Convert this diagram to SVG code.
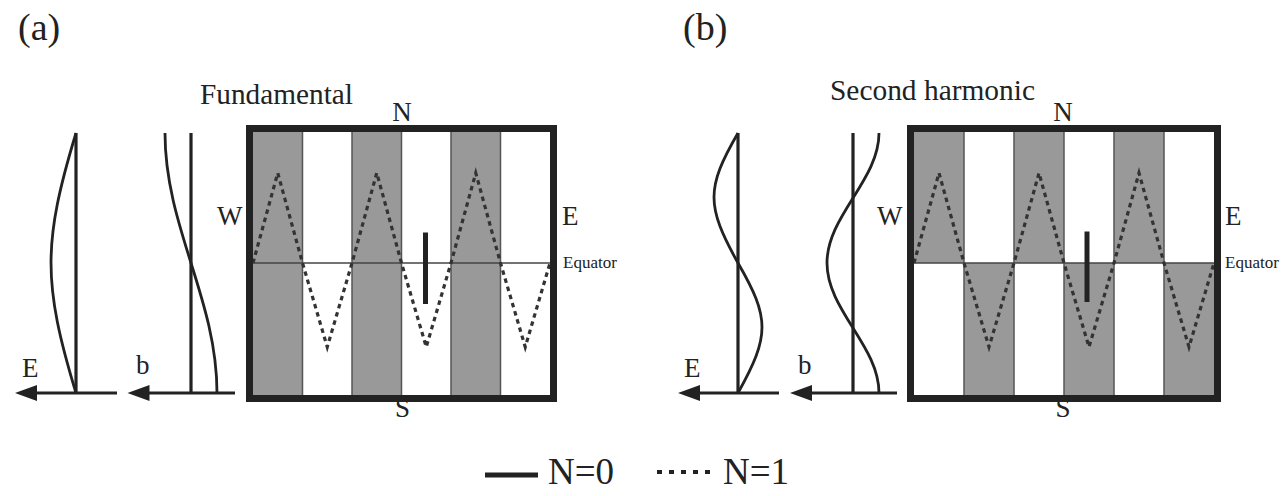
<svg xmlns="http://www.w3.org/2000/svg" width="1284" height="496" viewBox="0 0 1284 496">
<style>
text{font-family:"Liberation Serif","Times New Roman",serif;fill:#222}
.gray{fill:#999999}
.div{stroke:#555;stroke-width:1.5;fill:none}
.frame{fill:none;stroke:#222;stroke-width:7}
.eq{stroke:#444;stroke-width:1.5}
.wave{fill:none;stroke:#333;stroke-width:3.2;stroke-dasharray:4.5 4}
.bar{stroke:#222;stroke-width:5}
.ln{stroke:#222;stroke-width:3.2;fill:none}
.cv{stroke:#222;stroke-width:2.8;fill:none}
.ah{fill:#222}
.big{font-size:27px}
.lab{font-size:27px}
.small{font-size:17px}
.title{font-size:29px}
.panel{font-size:38px}
.leg{font-size:37px}
</style>

<g id="label-a"><text class="panel" x="18" y="40">(a)</text></g>
<g id="label-b"><text class="panel" x="683" y="40">(b)</text></g>

<!-- Panel (a) profiles -->
<g id="a-E-profile">
  <line class="ln" x1="76" y1="133" x2="76" y2="393"/>
  <path class="cv" d="M76,133 C42.7,243 42.7,283 76,393"/>
  <line class="ln" x1="117" y1="393" x2="30" y2="393"/>
  <polygon class="ah" points="15,393 37,385 37,401"/>
  <text class="lab" x="22" y="377">E</text>
</g>
<g id="a-b-profile">
  <line class="ln" x1="191" y1="133" x2="191" y2="393"/>
  <path class="cv" d="M165,133 C165,227.5 217,298.5 217,393"/>
  <line class="ln" x1="235" y1="393" x2="142" y2="393"/>
  <polygon class="ah" points="127.5,393 149.5,385 149.5,401"/>
  <text class="lab" x="136" y="374">b</text>
</g>

<!-- Panel (a) map -->
<g id="a-map">
  <text class="title" x="200" y="104" textLength="153" lengthAdjust="spacingAndGlyphs">Fundamental</text>
  <rect x="253" y="132" width="297" height="263" fill="#fff"/>
  <rect class="gray" x="253" y="132" width="49.5" height="263"/>
  <rect class="gray" x="352" y="132" width="49.5" height="263"/>
  <rect class="gray" x="451" y="132" width="49.5" height="263"/>
  <path class="div" d="M302.5,132V395M352,132V395M401.5,132V395M451,132V395M500.5,132V395"/>
  <line class="eq" x1="253" y1="263" x2="550" y2="263"/>
  <polyline class="wave" points="253,263 277.75,173 302.5,263 327.25,347 352,263 376.75,173 401.5,263 426.25,347 451,263 475.75,173 500.5,263 525.25,347 550,263"/>
  <line class="bar" x1="425.5" y1="232.5" x2="425.5" y2="304"/>
  <rect class="frame" x="249.5" y="128.5" width="304" height="270"/>
  <text class="big" x="402" y="121" text-anchor="middle">N</text>
  <text class="big" x="402.5" y="417" text-anchor="middle">S</text>
  <text class="big" x="217" y="225">W</text>
  <text class="big" x="562" y="225">E</text>
  <text class="small" x="563" y="268">Equator</text>
</g>

<!-- Panel (b) profiles -->
<g id="b-E-profile">
  <line class="ln" x1="738" y1="133" x2="738" y2="393"/>
  <path class="cv" d="M738,133 C706,188.2 706,205.8 738,263 C770,318.2 770,335.8 738,393"/>
  <line class="ln" x1="779" y1="393" x2="692" y2="393"/>
  <polygon class="ah" points="678,393 700,385 700,401"/>
  <text class="lab" x="684" y="377">E</text>
</g>
<g id="b-b-profile">
  <line class="ln" x1="853" y1="133" x2="853" y2="393"/>
  <path class="cv" d="M879,133 C879,180.2 827,215.8 827,263 C827,310.2 879,345.8 879,393"/>
  <line class="ln" x1="897" y1="393" x2="804" y2="393"/>
  <polygon class="ah" points="790,393 812,385 812,401"/>
  <text class="lab" x="798" y="374">b</text>
</g>

<!-- Panel (b) map -->
<g id="b-map">
  <text class="title" x="830" y="100" textLength="205" lengthAdjust="spacingAndGlyphs">Second harmonic</text>
  <rect x="914" y="132" width="300" height="263" fill="#fff"/>
  <rect class="gray" x="914" y="132" width="50" height="131"/>
  <rect class="gray" x="1014" y="132" width="50" height="131"/>
  <rect class="gray" x="1114" y="132" width="50" height="131"/>
  <rect class="gray" x="964" y="263" width="50" height="132"/>
  <rect class="gray" x="1064" y="263" width="50" height="132"/>
  <rect class="gray" x="1164" y="263" width="50" height="132"/>
  <path class="div" d="M964,132V395M1014,132V395M1064,132V395M1114,132V395M1164,132V395"/>
  <line class="eq" x1="914" y1="263" x2="1214" y2="263"/>
  <polyline class="wave" points="914,263 939,173 964,263 989,347 1014,263 1039,173 1064,263 1089,347 1114,263 1139,173 1164,263 1189,347 1214,263"/>
  <line class="bar" x1="1087" y1="231.5" x2="1087" y2="302"/>
  <rect class="frame" x="910.5" y="128.5" width="307" height="270"/>
  <text class="big" x="1063" y="121" text-anchor="middle">N</text>
  <text class="big" x="1063" y="417" text-anchor="middle">S</text>
  <text class="big" x="877" y="225">W</text>
  <text class="big" x="1225" y="225">E</text>
  <text class="small" x="1225" y="268">Equator</text>
</g>

<!-- Legend -->
<g id="legend">
  <line x1="485" y1="475" x2="538" y2="475" stroke="#222" stroke-width="5"/>
  <text class="leg" x="548" y="484">N=0</text>
  <line x1="657" y1="472" x2="712" y2="472" stroke="#222" stroke-width="4" stroke-dasharray="5 7"/>
  <text class="leg" x="723" y="484">N=1</text>
</g>
</svg>
